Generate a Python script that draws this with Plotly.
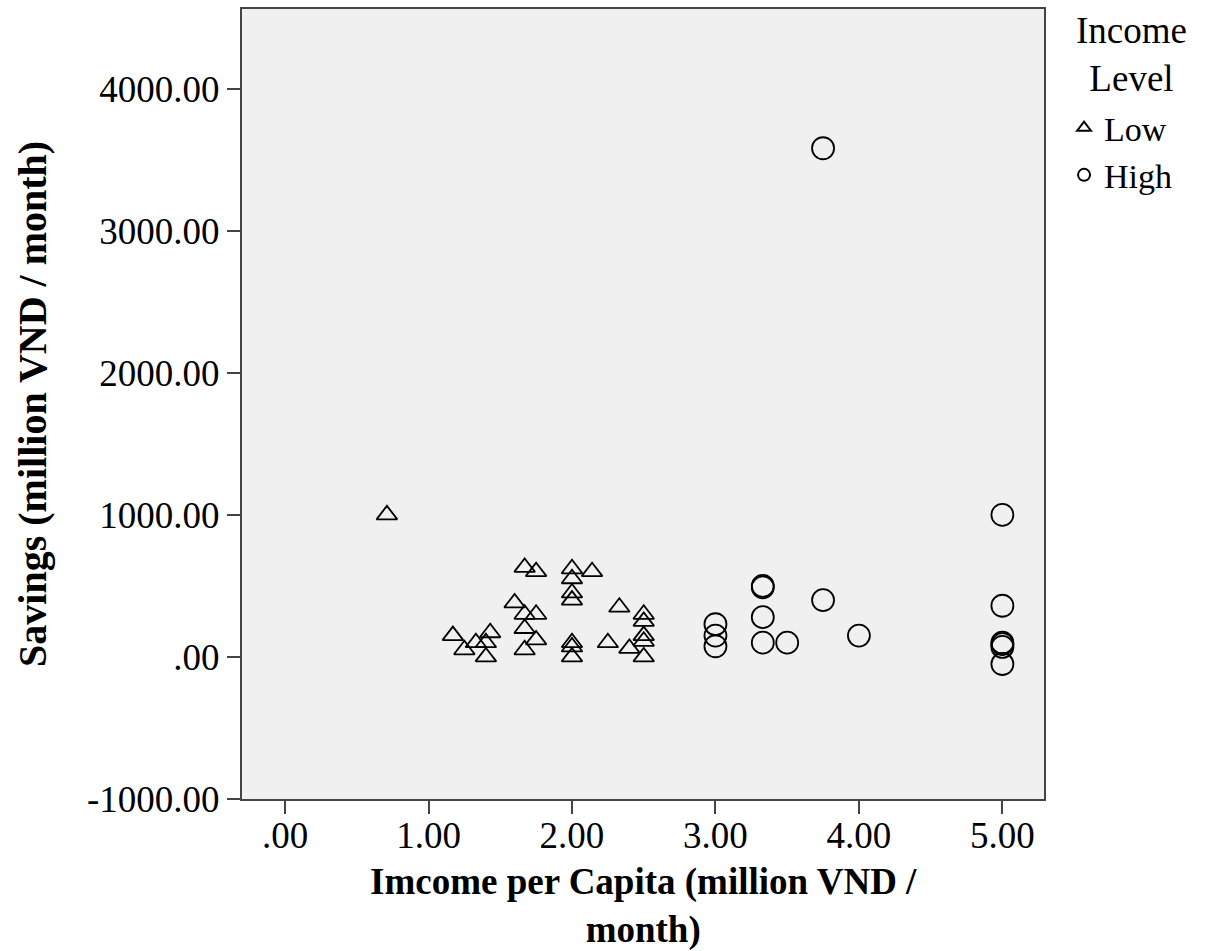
import plotly.graph_objects as go

# Low income households
low_income = [0.71, 1.67, 1.75, 2.00, 2.14, 2.00, 2.00, 2.00, 1.60, 1.67, 1.75,
              2.33, 2.50, 2.50, 1.67, 1.17, 1.43, 1.33, 1.40, 1.75, 2.00, 2.00,
              2.25, 2.50, 2.50, 2.40, 1.25, 1.67, 1.40, 2.00, 2.50]
low_savings = [1000, 630, 600, 620, 600, 550, 450, 400, 380, 300, 300,
               350, 300, 250, 200, 150, 170, 100, 100, 120, 100, 70,
               100, 150, 110, 60, 50, 50, 0, 0, 0]

# High income households
high_income = [5.00, 3.33, 3.33, 3.75, 5.00, 3.00, 3.00, 3.00, 3.33, 3.33,
               3.50, 4.00, 5.00, 5.00, 5.00, 5.00, 3.75]
high_savings = [1000, 500, 490, 400, 360, 230, 150, 75, 280, 100,
                100, 150, 100, 90, 70, -50, 3580]

x_ticks = [0, 1, 2, 3, 4, 5]
x_tick_text = [".00", "1.00", "2.00", "3.00", "4.00", "5.00"]
y_ticks = [-1000, 0, 1000, 2000, 3000, 4000]
y_tick_text = ["-1000.00", ".00", "1000.00", "2000.00", "3000.00", "4000.00"]

FONT = "Liberation Serif, Times New Roman, serif"

fig = go.Figure()
fig.add_trace(go.Scatter(
    x=low_income, y=low_savings, mode="markers", name="Low",
    marker=dict(symbol="triangle-up-open", size=18, color="black",
                line=dict(width=1.8, color="black")),
))
fig.add_trace(go.Scatter(
    x=high_income, y=high_savings, mode="markers", name="High",
    marker=dict(symbol="circle-open", size=22, color="black",
                line=dict(width=1.8, color="black")),
))

axis_common = dict(
    showgrid=False, zeroline=False, showline=True, linecolor="#444444",
    linewidth=2, mirror=True, ticks="outside", ticklen=13, tickwidth=2,
    tickcolor="#444444", automargin=False,
    tickfont=dict(family=FONT, size=37, color="black"),
)

fig.update_layout(
    width=1211, height=951,
    margin=dict(l=242, r=167, t=9, b=152),
    paper_bgcolor="white", plot_bgcolor="#f0f0f0",
    font=dict(family=FONT, color="black"),
    xaxis=dict(range=[-0.3, 5.29], tickvals=x_ticks, ticktext=x_tick_text,
               ticklabelstandoff=-10, **axis_common),
    yaxis=dict(range=[-1000, 4560], tickvals=y_ticks, ticktext=y_tick_text,
               **axis_common),
    legend=dict(x=1.025, xanchor="left", y=0.886, yanchor="top",
                bgcolor="rgba(0,0,0,0)", tracegroupgap=0,
                font=dict(family=FONT, size=34, color="black"),
                itemsizing="constant"),
    showlegend=True,
)

# Axis titles
fig.add_annotation(text="<b>Imcome per Capita (million VND /<br>month)</b>",
                   xref="paper", yref="paper", x=0.5, y=-0.135,
                   xanchor="center", yanchor="middle", showarrow=False,
                   font=dict(family=FONT, size=37, color="black"))
fig.add_annotation(text="<b>Savings (million VND / month)</b>", xref="paper", yref="paper",
                   x=-0.262, y=0.5, xanchor="center", yanchor="middle", textangle=-90,
                   showarrow=False, font=dict(family=FONT, size=40, color="black"))

# Legend heading
fig.add_annotation(text="Income<br>Level", xref="paper", yref="paper",
                   x=1.1085, y=0.942, xanchor="center", yanchor="middle", showarrow=False,
                   font=dict(family=FONT, size=37, color="black"))

fig.write_html("out.html")
